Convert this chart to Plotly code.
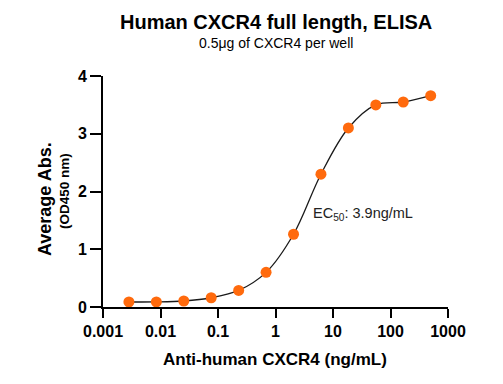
import plotly.graph_objects as go

# Data (3-fold dilutions from 500 ng/mL)
concentration_ng_ml = [500/3**k for k in range(11, -1, -1)]
average_abs = [0.087, 0.088, 0.104, 0.16, 0.287, 0.60, 1.26, 2.30, 3.10, 3.50, 3.55, 3.66]
x_tick_vals = [0.001, 0.01, 0.1, 1, 10, 100, 1000]
x_tick_text = ["0.001", "0.01", "0.1", "1", "10", "100", "1000"]
y_tick_vals = [0, 1, 2, 3, 4]

FONT = "Liberation Sans, Arial, sans-serif"

L, R, T, B = 103, 55, 76, 77
W, H = 503, 384
pw = W - L - R
ph = H - T - B

def px(x):
    return (x - L) / pw

def py(y):
    return (H - B - y) / ph

fig = go.Figure()
fig.add_trace(go.Scatter(
    x=concentration_ng_ml, y=average_abs, mode="lines",
    line=dict(color="#1a1a1a", width=1.3, shape="spline", smoothing=1.0),
    hoverinfo="skip", showlegend=False))
fig.add_trace(go.Scatter(
    x=concentration_ng_ml, y=average_abs, mode="markers",
    marker=dict(color="#FF6A0D", size=11, line=dict(width=0)),
    showlegend=False))

fig.update_layout(
    width=W, height=H,
    margin=dict(l=L, r=R, t=T, b=B),
    paper_bgcolor="white", plot_bgcolor="white",
    font=dict(family=FONT, color="#000"),
    xaxis=dict(type="log", range=[-3, 3], tickvals=x_tick_vals, ticktext=x_tick_text,
               showline=True, linecolor="#000", linewidth=2, ticks="outside",
               ticklen=9, tickwidth=2, tickcolor="#000", showgrid=False, zeroline=False,
               tickfont=dict(family=FONT, size=16, color="#000", weight="bold")),
    yaxis=dict(range=[0, 4], tickvals=y_tick_vals,
               showline=True, linecolor="#000", linewidth=2, ticks="outside",
               ticklen=11, tickwidth=2, tickcolor="#000", showgrid=False, zeroline=False,
               tickfont=dict(family=FONT, size=16, color="#000", weight="bold")),
)

fig.add_annotation(xref="paper", yref="paper", x=px(276), y=py(22), showarrow=False,
                   text="<b>Human CXCR4 full length, ELISA</b>",
                   font=dict(family=FONT, size=20, color="#000"), xanchor="center", yanchor="middle")
fig.add_annotation(xref="paper", yref="paper", x=px(276), y=py(43), showarrow=False,
                   text="0.5μg of CXCR4 per well",
                   font=dict(family=FONT, size=14, color="#000"), xanchor="center", yanchor="middle")
fig.add_annotation(xref="paper", yref="paper", x=px(275), y=py(359), showarrow=False,
                   text="<b>Anti-human CXCR4 (ng/mL)</b>",
                   font=dict(family=FONT, size=17, color="#000"), xanchor="center", yanchor="middle")
fig.add_annotation(xref="paper", yref="paper", x=px(45), y=py(199), showarrow=False,
                   text="<b>Average Abs.</b>", textangle=-90,
                   font=dict(family=FONT, size=18, color="#000"), xanchor="center", yanchor="middle")
fig.add_annotation(xref="paper", yref="paper", x=px(64), y=py(191), showarrow=False,
                   text="<b>(OD450 nm)</b>", textangle=-90,
                   font=dict(family=FONT, size=13.5, color="#000"), xanchor="center", yanchor="middle")
fig.add_annotation(xref="paper", yref="paper", x=px(311), y=py(214), showarrow=False,
                   text="EC<sub>50</sub>: 3.9ng/mL",
                   font=dict(family=FONT, size=14.5, color="#222"), xanchor="left", yanchor="middle")

fig.write_html("out.html", config={"displayModeBar": False},
               post_script="document.body.style.margin='0';document.body.style.overflow='hidden';")
